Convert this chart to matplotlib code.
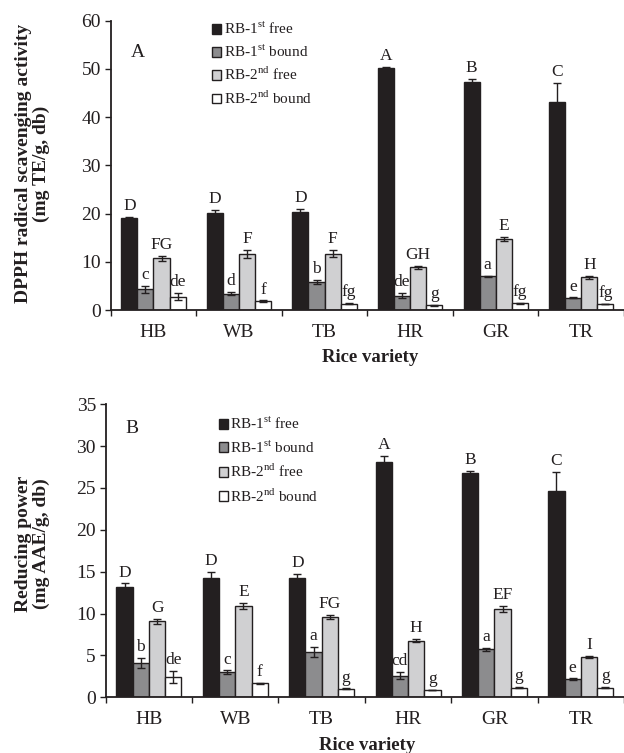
import matplotlib
matplotlib.use("Agg")
import matplotlib.pyplot as plt
import numpy as np

plt.rcParams['font.family'] = ['Liberation Serif', 'DejaVu Serif']
plt.rcParams['mathtext.fontset'] = 'custom'
plt.rcParams['mathtext.rm'] = 'Liberation Serif'

varieties = ["HB", "WB", "TB", "HR", "GR", "TR"]
series = ["RB-1$^{\\rm st}$ free", "RB-1$^{\\rm st}$ bound",
          "RB-2$^{\\rm nd}$ free", "RB-2$^{\\rm nd}$ bound"]

# Panel A: DPPH radical scavenging activity (mg TE/g, db)
dpph_free1 = [19.0, 20.1, 20.3, 50.1, 47.2, 43.1]
dpph_bound1 = [4.3, 3.4, 5.8, 3.0, 7.0, 2.5]
dpph_free2 = [10.7, 11.6, 11.7, 8.9, 14.7, 6.8]
dpph_bound2 = [2.8, 1.8, 1.3, 1.0, 1.4, 1.25]
dpph_free1_err = [0.3, 0.7, 0.7, 0.4, 0.8, 4.0]
dpph_bound1_err = [0.7, 0.3, 0.4, 0.5, 0.1, 0.1]
dpph_free2_err = [0.5, 0.8, 0.7, 0.3, 0.4, 0.3]
dpph_bound2_err = [0.8, 0.2, 0.1, 0.1, 0.1, 0.1]
dpph_free1_lab = ["D", "D", "D", "A", "B", "C"]
dpph_bound1_lab = ["c", "d", "b", "de", "a", "e"]
dpph_free2_lab = ["FG", "F", "F", "GH", "E", "H"]
dpph_bound2_lab = ["de", "f", "fg", "g", "fg", "fg"]

# Panel B: Reducing power (mg AAE/g, db)
rp_free1 = [13.2, 14.3, 14.2, 28.1, 26.8, 24.6]
rp_bound1 = [4.06, 3.0, 5.45, 2.6, 5.73, 2.15]
rp_free2 = [9.1, 10.9, 9.6, 6.77, 10.55, 4.85]
rp_bound2 = [2.46, 1.67, 1.0, 0.87, 1.15, 1.15]
rp_free1_err = [0.4, 0.7, 0.5, 0.7, 0.2, 2.3]
rp_bound1_err = [0.6, 0.2, 0.6, 0.4, 0.2, 0.1]
rp_free2_err = [0.3, 0.4, 0.2, 0.2, 0.4, 0.1]
rp_bound2_err = [0.7, 0.05, 0.05, 0.05, 0.1, 0.1]
rp_free1_lab = ["D", "D", "D", "A", "B", "C"]
rp_bound1_lab = ["b", "c", "a", "cd", "a", "e"]
rp_free2_lab = ["G", "E", "FG", "H", "EF", "I"]
rp_bound2_lab = ["de", "f", "g", "g", "g", "g"]

colors = ["#231f20", "#8c8c8e", "#d0d0d2", "#ffffff"]
edge = "#231f20"

fig = plt.figure(figsize=(6.24, 7.53), dpi=100)
axA = fig.add_axes([0.1774, 0.5883, 0.8226, 0.3842])
axB = fig.add_axes([0.1694, 0.0740, 0.8306, 0.3891])


def draw(ax, vals, errs, labs, ylim, yticks, legend_anchor, lspace, panel, panel_xy):
    x = np.arange(len(varieties))
    w = 0.188
    handles = []
    for i in range(4):
        pos = x + (i - 1.5) * w
        b = ax.bar(pos, vals[i], width=w, color=colors[i], edgecolor=edge,
                   linewidth=1.0, label=series[i], zorder=2)
        handles.append(b)
        ax.errorbar(pos, vals[i], yerr=errs[i], fmt='none', ecolor=edge,
                    elinewidth=1.0, capsize=2.8, capthick=1.0, zorder=3)
        for p, v, e, t in zip(pos, vals[i], errs[i], labs[i]):
            ax.annotate(t, (p, v + e), xytext=(0, 2.0), textcoords='offset points',
                        ha='center', va='bottom', fontsize=12.5, color='#231f20')
    ax.set_xlim(-0.5, 5.42)
    ax.set_ylim(*ylim)
    ax.set_yticks(yticks)
    ax.set_xticks(x)
    ax.set_xticklabels(varieties)
    ax.set_xticks(np.arange(-0.5, 6.0, 1.0), minor=True)
    ax.tick_params(axis='x', which='major', length=0, labelsize=14, pad=10,
                   colors='#231f20')
    ax.tick_params(axis='x', which='minor', length=4, width=1, direction='out',
                   colors='#231f20')
    ax.tick_params(axis='y', length=4, width=1, direction='out', labelsize=14,
                   pad=3, colors='#231f20')
    for s in ['top', 'right']:
        ax.spines[s].set_visible(False)
    for s in ['left', 'bottom']:
        ax.spines[s].set_linewidth(1.3)
        ax.spines[s].set_color('#231f20')
    leg = ax.legend(handles=handles, loc='upper left', bbox_to_anchor=legend_anchor,
                    frameon=False, fontsize=11, handlelength=0.62, handleheight=0.62,
                    handletextpad=0.15, labelspacing=lspace, borderpad=0, borderaxespad=0)
    for t in leg.get_texts():
        t.set_color('#231f20')
    ax.text(panel_xy[0], panel_xy[1], panel, transform=ax.transAxes, fontsize=14,
            ha='center', va='center', color='#231f20')


draw(axA, [dpph_free1, dpph_bound1, dpph_free2, dpph_bound2],
     [dpph_free1_err, dpph_bound1_err, dpph_free2_err, dpph_bound2_err],
     [dpph_free1_lab, dpph_bound1_lab, dpph_free2_lab, dpph_bound2_lab],
     (0, 60), np.arange(0, 61, 10), (0.197, 1.0), 0.40, "A", (0.053, 0.889))
draw(axB, [rp_free1, rp_bound1, rp_free2, rp_bound2],
     [rp_free1_err, rp_bound1_err, rp_free2_err, rp_bound2_err],
     [rp_free1_lab, rp_bound1_lab, rp_free2_lab, rp_bound2_lab],
     (0, 35), np.arange(0, 36, 5), (0.218, 0.962), 0.47, "B", (0.05, 0.919))

fig.text(0.052, 0.783, "DPPH radical scavenging activity\n(mg TE/g, db)", rotation=90,
         ha='center', va='center', fontsize=14, fontweight='bold', color='#231f20',
         multialignment='center', linespacing=1.05)
fig.text(0.052, 0.2776, "Reducing power\n(mg AAE/g, db)", rotation=90,
         ha='center', va='center', fontsize=14, fontweight='bold', color='#231f20',
         multialignment='center', linespacing=1.05)
fig.text(370 / 624, 1 - 358 / 753, "Rice variety", ha='center', va='center',
         fontsize=13.5, fontweight='bold', color='#231f20')
fig.text(367 / 624, 1 - 745 / 753, "Rice variety", ha='center', va='center',
         fontsize=13.5, fontweight='bold', color='#231f20')

fig.savefig("out.png", dpi=100)
